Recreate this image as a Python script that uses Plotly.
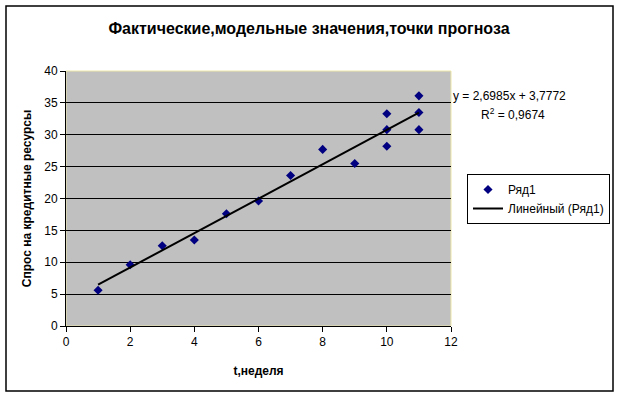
import plotly.graph_objects as go

t_week = [1, 2, 3, 4, 5, 6, 7, 8, 9, 10, 10, 10, 11, 11, 11]
demand = [5.6, 9.6, 12.6, 13.5, 17.6, 19.6, 23.6, 27.7, 25.5, 33.3, 30.8, 28.2, 36.1, 33.5, 30.8]
slope = 2.6985
intercept = 3.7772
r2_text = "0,9674"
x_ticks = [0, 2, 4, 6, 8, 10, 12]
y_ticks = [0, 5, 10, 15, 20, 25, 30, 35, 40]

trend_x = [min(t_week), max(t_week)]
trend_y = [slope * v + intercept for v in trend_x]

FONT = "Liberation Sans, Arial, sans-serif"

fig = go.Figure()
fig.add_trace(go.Scatter(
    x=t_week, y=demand, mode="markers", name="Ряд1",
    marker=dict(symbol="diamond", size=7, color="#000080"),
))
fig.add_trace(go.Scatter(
    x=trend_x, y=trend_y, mode="lines", name="Линейный (Ряд1)",
    line=dict(color="black", width=2),
))

fig.update_layout(
    width=619, height=397,
    margin=dict(l=66, r=168, t=71, b=71, autoexpand=False),
    paper_bgcolor="white",
    plot_bgcolor="#C0C0C0",
    font=dict(family=FONT, size=12, color="black"),
    title=dict(text="<b>Фактические,модельные значения,точки прогноза</b>",
               x=309 / 619, xanchor="center", y=1 - 28 / 397, yanchor="middle",
               font=dict(size=16, family=FONT)),
    showlegend=True,
    legend=dict(x=(467 - 66) / 385, y=(326 - 174) / 255, xanchor="left", yanchor="top",
                bgcolor="white", bordercolor="black", borderwidth=1,
                font=dict(size=12, family=FONT),
                itemwidth=30, tracegroupgap=0),
    xaxis=dict(range=[0, 12], tickvals=x_ticks, showgrid=False, zeroline=False,
               showline=True, linecolor="black", linewidth=1,
               ticks="outside", ticklen=5, tickcolor="black",
               tickfont=dict(size=12),
               title=dict(text="<b>t,неделя</b>", font=dict(size=12), standoff=18)),
    yaxis=dict(range=[0, 40], tickvals=y_ticks, showgrid=True, gridcolor="black",
               gridwidth=1, zeroline=False,
               showline=True, linecolor="black", linewidth=1,
               ticks="outside", ticklen=5, tickcolor="black",
               tickfont=dict(size=12),
               title=dict(text="<b>Спрос на кредитные ресурсы</b>", font=dict(size=12), standoff=10)),
)

# plot-area right/top border (light)
fig.add_shape(type="rect", xref="paper", yref="paper", x0=0, y0=0, x1=1, y1=1,
              line=dict(color="#EEE8AA", width=1), fillcolor="rgba(0,0,0,0)", layer="below")
# outer chart border
fig.add_shape(type="rect", xref="paper", yref="paper",
              x0=(6 - 66) / 385, x1=(613 - 66) / 385,
              y0=-(391 - 326) / 255, y1=(326 - 6) / 255,
              line=dict(color="black", width=1.5), fillcolor="rgba(0,0,0,0)")

fig.add_annotation(xref="paper", yref="paper", x=(451 - 66) / 385, y=(326 - 96) / 255,
                   xanchor="left", yanchor="middle", showarrow=False,
                   text=f"y = {str(slope).replace('.', ',')}x + {str(intercept).replace('.', ',')}",
                   font=dict(size=12, family=FONT))
fig.add_annotation(xref="paper", yref="paper", x=(479 - 66) / 385, y=(326 - 114) / 255,
                   xanchor="left", yanchor="middle", showarrow=False,
                   text=f"R<sup>2</sup> = {r2_text}",
                   font=dict(size=12, family=FONT))

fig.write_html("out.html")
